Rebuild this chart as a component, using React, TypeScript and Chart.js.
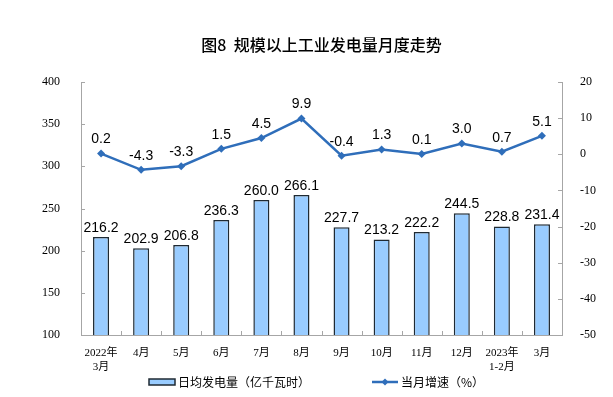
import React, { useEffect, useRef } from "react";
import { Chart, registerables } from "chart.js";

Chart.register(...registerables);

const categories: string[][] = [
  ["2022年", "3月"], ["4月"], ["5月"], ["6月"], ["7月"], ["8月"], ["9月"],
  ["10月"], ["11月"], ["12月"], ["2023年", "1-2月"], ["3月"],
];
const dailyOutput: number[] = [216.2, 202.9, 206.8, 236.3, 260.0, 266.1, 227.7, 213.2, 222.2, 244.5, 228.8, 231.4];
const monthlyGrowth: number[] = [0.2, -4.3, -3.3, 1.5, 4.5, 9.9, -0.4, 1.3, 0.1, 3.0, 0.7, 5.1];

const titleText = "图8  规模以上工业发电量月度走势";
const barLabel = "日均发电量（亿千瓦时）";
const lineLabel = "当月增速（%）";

const BAR_FILL = "#99CCFF";
const BAR_BORDER = "#1f2a33";
const LINE_COLOR = "#2F6EBA";
const AXIS_COLOR = "#a6a6a6";
const SERIF = "'Liberation Serif', 'Noto Sans CJK SC', serif";
const SANS = "'Liberation Sans', Arial, sans-serif";
const CJK = "'Noto Sans CJK SC', sans-serif";

const decorPlugin = {
  id: "decor",
  afterDraw(chart: any) {
    const ctx = chart.ctx as CanvasRenderingContext2D;
    const area = chart.chartArea;
    ctx.save();
    // inward tick marks
    ctx.strokeStyle = AXIS_COLOR;
    ctx.lineWidth = 1;
    const y = chart.scales.y;
    const y1 = chart.scales.y1;
    const x = chart.scales.x;
    y.ticks.forEach((t: any) => {
      const py = Math.round(y.getPixelForValue(t.value)) + 0.5;
      ctx.beginPath();
      ctx.moveTo(area.left, py);
      ctx.lineTo(area.left + 4, py);
      ctx.stroke();
    });
    y1.ticks.forEach((t: any) => {
      const py = Math.round(y1.getPixelForValue(t.value)) + 0.5;
      ctx.beginPath();
      ctx.moveTo(area.right, py);
      ctx.lineTo(area.right - 4, py);
      ctx.stroke();
    });
    const n = categories.length;
    for (let i = 1; i < n; i++) {
      const px = Math.round((x.getPixelForValue(i - 1) + x.getPixelForValue(i)) / 2) + 0.5;
      ctx.beginPath();
      ctx.moveTo(px, area.bottom);
      ctx.lineTo(px, area.bottom - 4);
      ctx.stroke();
    }

    // title
    ctx.fillStyle = "#000";
    ctx.font = `500 16px ${CJK}`;
    ctx.textAlign = "center";
    ctx.textBaseline = "middle";
    ctx.fillText(titleText, (area.left + area.right) / 2, 45);

    // legend
    const ly = 382;
    ctx.font = `12px ${CJK}`;
    ctx.textAlign = "left";
    ctx.fillStyle = BAR_FILL;
    ctx.fillRect(149, ly - 3, 26, 6);
    ctx.strokeStyle = BAR_BORDER;
    ctx.lineWidth = 1.5;
    ctx.strokeRect(149, ly - 3, 26, 6);
    ctx.fillStyle = "#000";
    ctx.fillText(barLabel, 178, ly);

    ctx.strokeStyle = LINE_COLOR;
    ctx.lineWidth = 2.5;
    ctx.beginPath();
    ctx.moveTo(372, ly);
    ctx.lineTo(398, ly);
    ctx.stroke();
    ctx.fillStyle = LINE_COLOR;
    ctx.beginPath();
    ctx.moveTo(385, ly - 3.5);
    ctx.lineTo(388.5, ly);
    ctx.lineTo(385, ly + 3.5);
    ctx.lineTo(381.5, ly);
    ctx.closePath();
    ctx.fill();
    ctx.fillStyle = "#000";
    ctx.fillText(lineLabel, 401, ly);
    ctx.restore();
  },
  afterDatasetsDraw(chart: any) {
    const ctx = chart.ctx as CanvasRenderingContext2D;
    ctx.save();
    ctx.fillStyle = "#000";
    ctx.font = `14px ${SANS}`;
    ctx.textAlign = "center";
    ctx.textBaseline = "bottom";
    const barMeta = chart.getDatasetMeta(0);
    barMeta.data.forEach((el: any, i: number) => {
      ctx.fillText(dailyOutput[i].toFixed(1), el.x, el.y - 2);
    });
    const lineMeta = chart.getDatasetMeta(1);
    lineMeta.data.forEach((el: any, i: number) => {
      ctx.fillText(monthlyGrowth[i].toFixed(1), el.x, el.y - 7);
    });
    ctx.restore();
  },
};

export default function App() {
  const ref = useRef<HTMLCanvasElement | null>(null);
  useEffect(() => {
    if (!ref.current) return;
    const chart = new Chart(ref.current, {
      type: "bar",
      data: {
        labels: categories,
        datasets: [
          {
            type: "bar",
            label: barLabel,
            data: dailyOutput,
            backgroundColor: BAR_FILL,
            borderColor: BAR_BORDER,
            borderWidth: 1.5,
            borderSkipped: false,
            categoryPercentage: 1,
            barPercentage: 0.4,
            yAxisID: "y",
            order: 2,
          },
          {
            type: "line",
            label: lineLabel,
            data: monthlyGrowth,
            borderColor: LINE_COLOR,
            backgroundColor: LINE_COLOR,
            borderWidth: 2.5,
            pointStyle: "rectRot",
            pointRadius: 4,
            pointBorderWidth: 0,
            tension: 0,
            yAxisID: "y1",
            order: 1,
          },
        ] as any,
      },
      options: {
        animation: false,
        responsive: true,
        maintainAspectRatio: false,
        layout: { padding: { top: 82, bottom: 0, left: 0, right: 0 } },
        plugins: {
          legend: { display: false },
          title: { display: false },
          tooltip: { enabled: false },
        },
        scales: {
          x: {
            offset: true,
            grid: { display: false, offset: true },
            border: { display: true, color: AXIS_COLOR, width: 1 },
            ticks: {
              color: "#000",
              font: { family: SERIF, size: 11, lineHeight: 1.2 },
              padding: 4,
              maxRotation: 0,
              autoSkip: false,
            },
            afterFit(scale: any) {
              scale.height = 62;
            },
          },
          y: {
            position: "left",
            min: 100,
            max: 400,
            grid: { display: false },
            border: { display: true, color: AXIS_COLOR, width: 1 },
            ticks: {
              stepSize: 50,
              color: "#000",
              font: { family: SERIF, size: 12 },
              padding: 13,
            },
            afterFit(scale: any) {
              scale.width = 81;
            },
          },
          y1: {
            position: "right",
            min: -50,
            max: 20,
            grid: { display: false },
            border: { display: true, color: AXIS_COLOR, width: 1 },
            ticks: {
              stepSize: 10,
              color: "#000",
              font: { family: SERIF, size: 12 },
              padding: 10,
            },
            afterFit(scale: any) {
              scale.width = 51;
            },
          },
        },
      } as any,
      plugins: [decorPlugin],
    });
    return () => chart.destroy();
  }, []);
  return (
    <div style={{ position: "fixed", left: 0, top: 0, width: 613, height: 397, background: "#fff" }}>
      <canvas ref={ref} />
    </div>
  );
}
